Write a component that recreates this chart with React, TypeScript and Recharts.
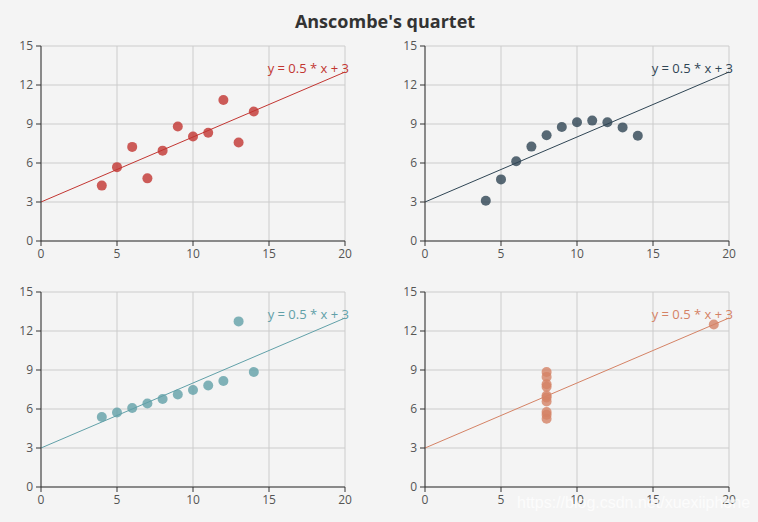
import React from "react";
import { ScatterChart, Scatter, XAxis, YAxis, CartesianGrid, ReferenceLine } from "recharts";

const titleText = "Anscombe's quartet";
const lineLabel = "y = 0.5 * x + 3";
const watermark = "https://blog.csdn.net/xuexiiphone";
const xTicks = [0, 5, 10, 15, 20];
const yTicks = [0, 3, 6, 9, 12, 15];
const lineStart = { x: 0, y: 3 };
const lineEnd = { x: 20, y: 13 };

const xShared = [10, 8, 13, 9, 11, 14, 6, 4, 12, 7, 5];
const y1 = [8.04, 6.95, 7.58, 8.81, 8.33, 9.96, 7.24, 4.26, 10.84, 4.82, 5.68];
const y2 = [9.14, 8.14, 8.74, 8.77, 9.26, 8.1, 6.13, 3.1, 9.13, 7.26, 4.74];
const y3 = [7.46, 6.77, 12.74, 7.11, 7.81, 8.84, 6.08, 5.39, 8.15, 6.42, 5.73];
const x4 = [8, 8, 8, 8, 8, 8, 8, 19, 8, 8, 8];
const y4 = [6.58, 5.76, 7.71, 8.84, 8.47, 7.04, 5.25, 12.5, 5.56, 7.91, 6.89];

const colors = ["#c23531", "#2f4554", "#61a0a8", "#d48265"];

const toPoints = (xs: number[], ys: number[]) => xs.map((x, i) => ({ x, y: ys[i] }));

const panels = [
  { data: toPoints(xShared, y1), color: colors[0], left: 0, top: 0 },
  { data: toPoints(xShared, y2), color: colors[1], left: 384, top: 0 },
  { data: toPoints(xShared, y3), color: colors[2], left: 0, top: 246 },
  { data: toPoints(x4, y4), color: colors[3], left: 384, top: 246 },
];

const FONT = "'Open Sans', 'Noto Sans', sans-serif";

function Panel({ data, color }: { data: { x: number; y: number }[]; color: string }) {
  return (
    <ScatterChart width={379} height={270} margin={{ top: 46, right: 34, bottom: 4, left: 0 }}>
      <CartesianGrid stroke="#cccccc" strokeWidth={1} />
      <XAxis
        type="number"
        dataKey="x"
        domain={[0, 20]}
        ticks={xTicks}
        interval={0}
        allowDataOverflow
        height={25}
        stroke="#333"
        tickSize={5}
        tick={{ fill: "#555", fontSize: 12, fontFamily: FONT }}
        tickMargin={3}
      />
      <YAxis
        type="number"
        dataKey="y"
        domain={[0, 15]}
        ticks={yTicks}
        interval={0}
        allowDataOverflow
        width={41}
        stroke="#333"
        tickSize={5}
        tick={{ fill: "#555", fontSize: 12, fontFamily: FONT }}
        tickMargin={3}
      />
      <ReferenceLine
        segment={[lineStart, lineEnd]}
        stroke={color}
        ifOverflow="visible"
        shape={(p: any) => (
          <g>
            <line x1={p.x1} y1={p.y1} x2={p.x2} y2={p.y2} stroke={color} strokeWidth={1} />
            <text
              x={p.x2 + 4}
              y={p.y2 + 1}
              textAnchor="end"
              fill={color}
              fontSize={13}
              fontFamily={FONT}
            >
              {lineLabel}
            </text>
          </g>
        )}
      />
      <Scatter
        data={data}
        isAnimationActive={false}
        shape={(p: any) => <circle cx={p.cx} cy={p.cy} r={5} fill={color} fillOpacity={0.8} />}
      />
    </ScatterChart>
  );
}

export default function App() {
  return (
    <div
      style={{
        position: "absolute",
        left: 0,
        top: 0,
        width: 758,
        height: 522,
        background: "#f4f4f4",
        overflow: "hidden",
        fontFamily: FONT,
      }}
    >
      <div
        style={{
          position: "absolute",
          left: 6,
          top: 9,
          width: 758,
          textAlign: "center",
          fontSize: 18,
          fontWeight: "bold",
          color: "#333",
          lineHeight: "24px",
        }}
      >
        {titleText}
      </div>
      {panels.map((p, i) => (
        <div key={i} style={{ position: "absolute", left: p.left, top: p.top, width: 379, height: 270 }}>
          <Panel data={p.data} color={p.color} />
        </div>
      ))}
      <div
        style={{
          position: "absolute",
          left: 517,
          top: 494,
          fontSize: 16,
          fontFamily: "Arial, 'Liberation Sans', sans-serif",
          color: "rgba(255,255,255,0.75)",
          whiteSpace: "nowrap",
        }}
      >
        {watermark}
      </div>
    </div>
  );
}
